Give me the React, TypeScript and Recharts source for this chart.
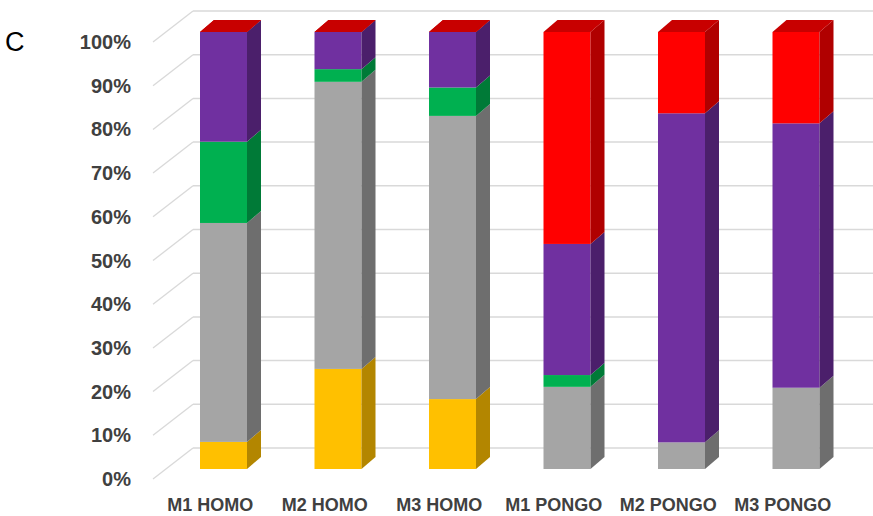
import React from "react";
import { BarChart, Bar, XAxis, YAxis, CartesianGrid } from "recharts";

const categories = ["M1 HOMO", "M2 HOMO", "M3 HOMO", "M1 PONGO", "M2 PONGO", "M3 PONGO"];
const yellowValues = [6.2, 22.9, 16.0, 0, 0, 0];
const grayValues = [50.1, 65.7, 64.8, 18.8, 6.1, 18.6];
const greenValues = [18.6, 2.9, 6.5, 2.7, 0, 0];
const purpleValues = [25.1, 8.5, 12.7, 30.0, 75.3, 60.5];
const redValues = [0, 0, 0, 48.5, 18.6, 20.9];
const yTicks = [0, 10, 20, 30, 40, 50, 60, 70, 80, 90, 100];

const data = categories.map((c, i) => ({
  name: c,
  yellow: yellowValues[i],
  gray: grayValues[i],
  green: greenValues[i],
  purple: purpleValues[i],
  red: redValues[i],
}));

const W = 873;
const H = 516;
const PLOT_TOP = 32;
const DX = 14;
const DY = 12;
const TOP_COLOR = "#c80000";
const FONT = "'Liberation Sans', Arial, sans-serif";
const TEXT_COLOR = "#404040";

const makeShape = (front: string, side: string) => (p: any) => {
  const { x, y, width, height } = p;
  if (x == null || y == null) return <g />;
  const h = Math.max(0, height || 0);
  const atTop = Math.abs(y - PLOT_TOP) < 0.6;
  return (
    <g>
      {h > 0 && <rect x={x} y={y} width={width} height={h} fill={front} />}
      {h > 0 && (
        <polygon
          points={`${x + width},${y} ${x + width + DX},${y - DY} ${x + width + DX},${y + h - DY} ${x + width},${y + h}`}
          fill={side}
        />
      )}
      {atTop && (
        <polygon
          points={`${x},${y} ${x + width},${y} ${x + width + DX},${y - DY} ${x + DX},${y - DY}`}
          fill={TOP_COLOR}
        />
      )}
    </g>
  );
};

const gridLine = (p: any) => {
  const { x1, y1, key } = p;
  const fx = x1 - 13;
  const fy = y1 + 10;
  const bx = x1 + 27;
  const by = y1 - 21;
  return (
    <g key={key}>
      <line x1={fx} y1={fy} x2={bx} y2={by} stroke="#d9d9d9" strokeWidth={1.3} />
      <line x1={bx} y1={by} x2={W} y2={by} stroke="#d9d9d9" strokeWidth={1.5} />
    </g>
  );
};

const YTick = (p: any) => {
  const { y, payload } = p;
  return (
    <text
      x={131}
      y={y + 10}
      textAnchor="end"
      dominantBaseline="central"
      fontFamily={FONT}
      fontWeight="bold"
      fontSize={20}
      fill={TEXT_COLOR}
    >
      {`${payload.value}%`}
    </text>
  );
};

const XTick = (p: any) => {
  const { x, payload } = p;
  return (
    <text
      x={x - 13}
      y={505}
      textAnchor="middle"
      dominantBaseline="central"
      fontFamily={FONT}
      fontWeight="bold"
      fontSize={18}
      fill={TEXT_COLOR}
    >
      {payload.value}
    </text>
  );
};

export default function App() {
  return (
    <div style={{ position: "absolute", left: 0, top: 0, width: W, height: H, background: "#fff" }}>
      <BarChart
        width={W}
        height={H}
        data={data}
        margin={{ top: PLOT_TOP, right: 20, left: 0, bottom: 17 }}
        barSize={47}
      >
        <CartesianGrid vertical={false} horizontal={gridLine} />
        <XAxis dataKey="name" height={30} axisLine={false} tickLine={false} tick={<XTick />} interval={0} />
        <YAxis
          width={166}
          domain={[0, 100]}
          ticks={yTicks}
          axisLine={false}
          tickLine={false}
          tick={<YTick />}
          interval={0}
        />
        <Bar dataKey="yellow" stackId="a" fill="#ffc000" isAnimationActive={false} shape={makeShape("#ffc000", "#b38600")} />
        <Bar dataKey="gray" stackId="a" fill="#a5a5a5" isAnimationActive={false} shape={makeShape("#a5a5a5", "#6e6e6e")} />
        <Bar dataKey="green" stackId="a" fill="#00b050" isAnimationActive={false} shape={makeShape("#00b050", "#007a37")} />
        <Bar dataKey="purple" stackId="a" fill="#7030a0" isAnimationActive={false} shape={makeShape("#7030a0", "#4b1f6b")} />
        <Bar dataKey="red" stackId="a" fill="#ff0000" isAnimationActive={false} shape={makeShape("#ff0000", "#b00000")} />
      </BarChart>
      <div
        style={{
          position: "absolute",
          left: 5,
          top: 25,
          fontFamily: FONT,
          fontSize: 27,
          color: "#000",
          lineHeight: "34px",
        }}
      >
        C
      </div>
    </div>
  );
}
